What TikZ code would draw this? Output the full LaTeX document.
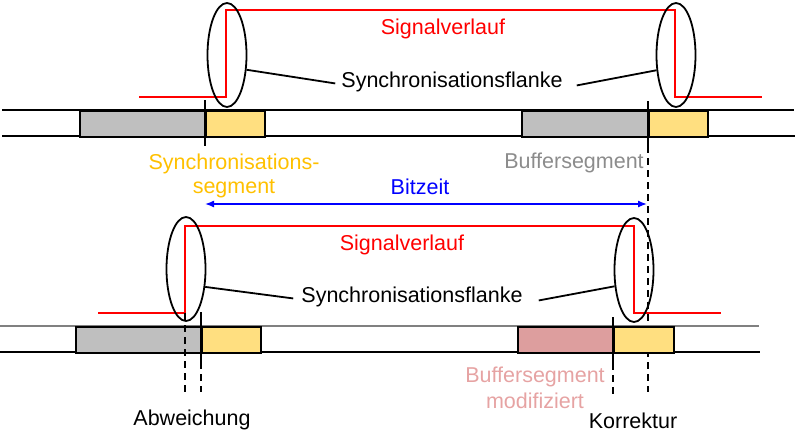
\documentclass[tikz,border=0pt]{standalone}
\usepackage{fontspec}
\setmainfont{Liberation Sans}
\usetikzlibrary{shapes.geometric,arrows.meta}
\definecolor{sigred}{HTML}{FF0000}
\definecolor{syncorange}{HTML}{FFC000}
\definecolor{bufgray}{HTML}{BFBFBF}
\definecolor{buftext}{HTML}{8C8C8C}
\definecolor{segyellow}{HTML}{FFDF80}
\definecolor{modpink}{HTML}{DD9E9E}
\definecolor{modtext}{HTML}{E6A3A3}
\definecolor{bitblue}{HTML}{0000FF}
\begin{document}
\begin{tikzpicture}[x=1pt,y=-1pt,
  txt/.style={font=\fontsize{21.5}{24}\selectfont, inner sep=0pt, anchor=base},
  sig/.style={draw=sigred, line width=2.6pt},
  flank/.style={ellipse, draw=black, line width=1.8pt, minimum width=39pt, minimum height=104pt, inner sep=0pt},
  busline/.style={line width=1.6pt},
  seg/.style={draw=black, line width=1.6pt, anchor=north west, minimum height=26pt, inner sep=0pt},
  marker/.style={line width=2.8pt},
  guide/.style={line width=1.4pt, dash pattern=on 7pt off 5pt},
  conn/.style={line width=1.8pt}]
\useasboundingbox (0,0) rectangle (803,432);

% ---------------- upper part ----------------
% bus
\draw[busline] (2,110) -- (794,110);
\draw[busline] (2,136) -- (795,136);
\node[seg, fill=bufgray, minimum width=126pt] (gA) at (79,110) {};
\node[seg, fill=segyellow, minimum width=59pt] (yA) at (205,110) {};
\node[seg, fill=bufgray, minimum width=127pt] (gB) at (521,110) {};
\node[seg, fill=segyellow, minimum width=59pt] (yB) at (648,110) {};

% signal
\draw[sig] (139,97) -- (226,97) -- (226,10) -- (675,10) -- (675,97) -- (762,97);

% ellipses
\node[flank] (eA) at (227,55) {};
\node[flank] (eB) at (676,55) {};

% labels
\node[txt, text=sigred] (sigA) at (443,34) {Signalverlauf};
\node[txt] (flA) at (452,87) {Synchronisationsflanke};
\draw[conn] (eA.-37) -- ([xshift=-6pt,yshift=-2pt]flA.west);
\draw[conn] (eB.-142) -- ([xshift=14pt,yshift=-4pt]flA.east);

% markers
\coordinate (mA1) at (205,100);
\coordinate (mA2) at (205,146);
\coordinate (mB1) at (648,101);
\coordinate (mB2) at (648,146);
\coordinate (mB3) at (648,392);
\draw[marker] (mA1) -- (mA2);
\draw[marker] (mB1) -- (mB2);
\draw[guide] (mB2) -- (mB3);

\node[txt, text=syncorange] (syncA) at (234,169) {Synchronisations-};
\node[txt, text=syncorange] (syncB) at (234,193) {segment};
\node[txt, text=buftext] (bufA) at (574,168) {Buffersegment};
\node[txt, text=bitblue] (bit) at (420,194) {Bitzeit};
\coordinate (bitL) at (205,204);
\coordinate (bitR) at (647,204);
\draw[bitblue, line width=1.4pt, {Latex[length=9pt,width=7pt]}-{Latex[length=9pt,width=7pt]}] (bitL) -- (bitR);

% ---------------- lower part ----------------
\draw[busline, draw=gray] (0,326) -- (759,326);
\draw[busline] (0,352) -- (760,352);
\node[seg, fill=bufgray, minimum width=126pt] (gC) at (75,326) {};
\node[seg, fill=segyellow, minimum width=59pt] (yC) at (201,326) {};
\node[seg, fill=modpink, minimum width=96pt] (pD) at (517,326) {};
\node[seg, fill=segyellow, minimum width=60pt] (yD) at (613,326) {};

\draw[sig] (98,313) -- (185,313) -- (185,226) -- (634,226) -- (634,313) -- (721,313);

\node[flank] (eC) at (186,269) {};
\node[flank] (eD) at (634,270) {};

\node[txt, text=sigred] (sigB) at (402,250) {Signalverlauf};
\node[txt] (flB) at (412,302) {Synchronisationsflanke};
\draw[conn] (eC.-43) -- ([xshift=-8pt,yshift=-2pt]flB.west);
\draw[conn] (eD.-140) -- ([xshift=16pt,yshift=-4pt]flB.east);

\coordinate (mC1) at (201,312);
\coordinate (mC2) at (201,362);
\coordinate (mC3) at (201,392);
\coordinate (aC1) at (185,313);
\coordinate (aC2) at (185,392);
\coordinate (mD1) at (613,317);
\coordinate (mD2) at (613,363);
\coordinate (mD3) at (613,395);
\draw[marker] (mC1) -- (mC2);
\draw[marker] (mD1) -- (mD2);
\draw[guide] (mC2) -- (mC3);
\draw[guide] (aC1) -- (aC2);
\draw[guide] (mD2) -- (mD3);

\node[txt, text=modtext] (bufB) at (535,382) {Buffersegment};
\node[txt, text=modtext] (bufC) at (535,408) {modifiziert};
\node[txt] (abw) at (192,425) {Abweichung};
\node[txt] (kor) at (633,428) {Korrektur};
\end{tikzpicture}
\end{document}
